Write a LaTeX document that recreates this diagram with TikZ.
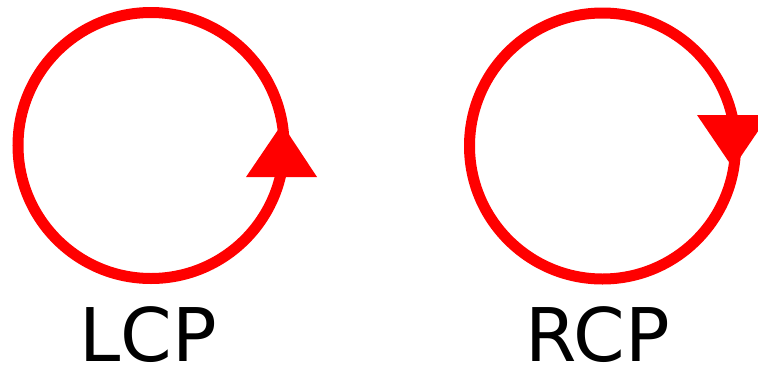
\documentclass[tikz,border=0pt]{standalone}
\usepackage{fontspec}
\setmainfont{DejaVu Sans}
\usepackage{xcolor}
\usetikzlibrary{positioning,calc}
\definecolor{PolRed}{HTML}{FF0000}

\begin{document}
\begin{tikzpicture}[
  x=1pt, y=-1pt,
  ring/.style={draw=PolRed,line width=11pt},
  tipfill/.style={fill=PolRed,draw=none},
  lbl/.style={font=\fontsize{74}{80}\selectfont,anchor=base,inner sep=0pt}]

\useasboundingbox (0,0) rectangle (758,367);

\coordinate (cl) at (151,145.5);
\coordinate (cr) at (602.5,146);

\draw[ring] (cl) circle[radius=133pt];
\draw[ring] (cr) circle[radius=133pt];

% arrowheads
\fill[tipfill] (282,124) -- (317,177) -- (246,177) -- cycle;
\fill[tipfill] (733,168) -- (697,115) -- (769,115) -- cycle;

\node[lbl] (lcp) at (148,361) {LCP};
\node[lbl] (rcp) at (598,361) {RCP};
\end{tikzpicture}
\end{document}
